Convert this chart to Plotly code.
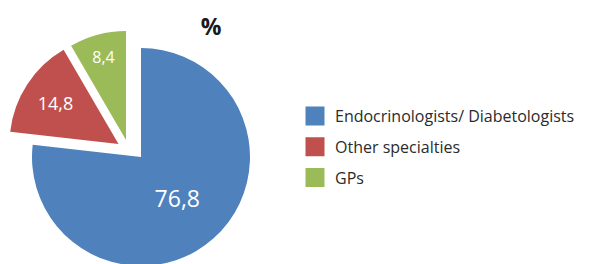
import plotly.graph_objects as go

# ---- data ----
categories = ["Endocrinologists/ Diabetologists", "Other specialties", "GPs"]
shares = [76.8, 14.8, 8.4]
colors = ["#4F81BD", "#C0504D", "#9BBB59"]
title_text = "%"

W, H = 589, 264
OFF = 8    # the page body margin shifts the figure by 8px; positions below are page pixels
R = 109    # pie radius in px

def dom(cx, cy):
    """square domain (paper fractions) of side 2R centred at page pixel (cx, cy)"""
    fx, fy = cx - OFF, cy - OFF
    yb = H - fy
    return dict(x=[(fx - R) / W, (fx + R) / W], y=[(yb - R) / H, (yb + R) / H])

# each slice is drawn by its own pie (same data, other slices transparent) so that
# the exploded slices can be offset independently, as in the reference
centres = [(141, 157), (118.5, 144), (126, 140)]
fontsizes = [23, 18, 16]
clear = "rgba(0,0,0,0)"

fig = go.Figure()
for i, (cx, cy) in enumerate(centres):
    cols = [colors[j] if j == i else clear for j in range(len(shares))]
    tpos = ["inside" if j == i else "none" for j in range(len(shares))]
    fig.add_trace(go.Pie(
        labels=categories, values=shares, sort=False, direction="clockwise", rotation=0,
        marker=dict(colors=cols, line=dict(width=0)),
        textinfo="value", textposition=tpos, insidetextorientation="horizontal",
        insidetextfont=dict(color="white", size=fontsizes[i], family="Open Sans"),
        domain=dom(cx, cy), showlegend=False, hoverinfo="label+value",
    ))

# legend entries
for lab, col in zip(categories, colors):
    fig.add_trace(go.Scatter(
        x=[None], y=[None], mode="markers", name=lab, legendgroup=lab,
        marker=dict(symbol="square", size=16, color=col, line=dict(color=col, width=3)),
    ))

fig.update_layout(
    width=W, height=H, margin=dict(l=0, r=0, t=0, b=0),
    paper_bgcolor="white", plot_bgcolor="white",
    separators=", ",
    font=dict(family="Open Sans", color="#2b2b2b"),
    title=dict(text="<b>%s</b>" % title_text, x=(211 - OFF) / W, xanchor="center",
               y=1 - (27 - OFF) / H, yanchor="middle",
               font=dict(size=23, color="#1a1a1a", family="Open Sans")),
    xaxis=dict(visible=False), yaxis=dict(visible=False),
    legend=dict(x=(295 - OFF) / W, xanchor="left", y=1 - (99 - OFF) / H, yanchor="top",
                font=dict(size=16, color="#2b2b2b"), tracegroupgap=7,
                bgcolor="rgba(0,0,0,0)", itemclick=False),
)

fig.write_html("out.html")
